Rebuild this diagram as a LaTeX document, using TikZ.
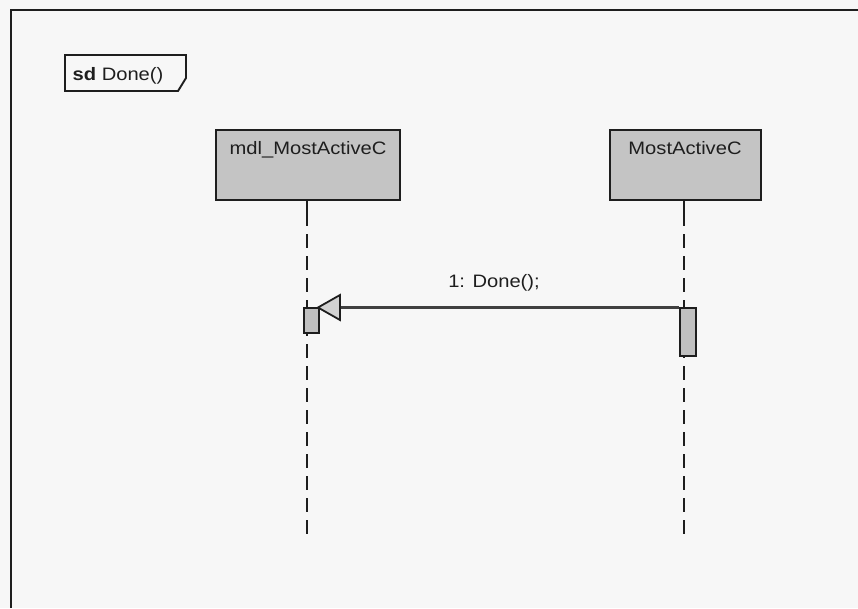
\documentclass[tikz,border=0pt]{standalone}
\usepackage{fontspec}
\setmainfont{Liberation Sans}
\definecolor{bg}{HTML}{F7F7F7}
\definecolor{boxfill}{HTML}{C4C4C4}
\definecolor{actfill}{HTML}{C0C0C0}
\definecolor{tipfill}{HTML}{D2D2D2}
\definecolor{ink}{HTML}{1E1E1E}
\begin{document}
\begin{tikzpicture}[x=1pt,y=-1pt,
  lbl/.style={font=\fontsize{18}{20}\selectfont, text=ink, inner sep=0pt, anchor=base},
  headbox/.style={draw=ink, line width=2.2pt, fill=boxfill},
  actbox/.style={draw=ink, line width=1.8pt, fill=actfill},
  lifeline/.style={draw=ink, line width=2.2pt, dash pattern=on 14pt off 8pt},
  framebox/.style={draw=ink, line width=2.2pt}]
\useasboundingbox (0,0) rectangle (858,608);
\fill[bg] (0,0) rectangle (858,608);
% outer frame
\coordinate (fbl) at (11,608);
\coordinate (ftl) at (11,10);
\coordinate (ftr) at (858,10);
\draw[framebox] (fbl) -- (ftl) -- (ftr);
% sd label pentagon
\draw[framebox, line width=1.9pt] (65,55) -- (186,55) -- (186,78) -- (178,91) -- (65,91) -- cycle;
\node[lbl] (sd) at (118,80) {\scalebox{1.12}[1]{\textbf{sd} Done()}};
% lifeline heads
\draw[headbox] (216,130) rectangle (400,200);
\node[lbl] (h1) at (308,154) {\scalebox{1.12}[1]{mdl\_MostActiveC}};
\draw[headbox] (610,130) rectangle (761,200);
\node[lbl] (h2) at (685,154) {\scalebox{1.12}[1]{MostActiveC}};
\coordinate (l1top) at (307,200);
\coordinate (l1bot) at (307,540);
\coordinate (l2top) at (684,200);
\coordinate (l2bot) at (684,540);
% lifelines
\draw[ink, line width=2.2pt] (l1top) -- (307,212);
\draw[lifeline] (307,212) -- (l1bot);
\draw[ink, line width=2.2pt] (l2top) -- (684,212);
\draw[lifeline] (684,212) -- (l2bot);
% activations
\node[actbox, minimum width=15pt, minimum height=25pt, inner sep=0pt, anchor=north west] (a1) at (303,307) {};
\node[actbox, minimum width=16pt, minimum height=48pt, inner sep=0pt, anchor=north west] (a2) at (679,307) {};
% message
\coordinate (tipb) at (340,307.5);
\draw[ink!85, line width=2.4pt] (a2.north west |- tipb) -- (tipb);
\draw[draw=ink, line width=1.8pt, fill=tipfill, line join=miter] (318,307.5) -- (340,295) -- (340,320) -- cycle;
\node[lbl] (msg) at (494,287) {\scalebox{1.12}[1]{1: Done();}};
\end{tikzpicture}
\end{document}
